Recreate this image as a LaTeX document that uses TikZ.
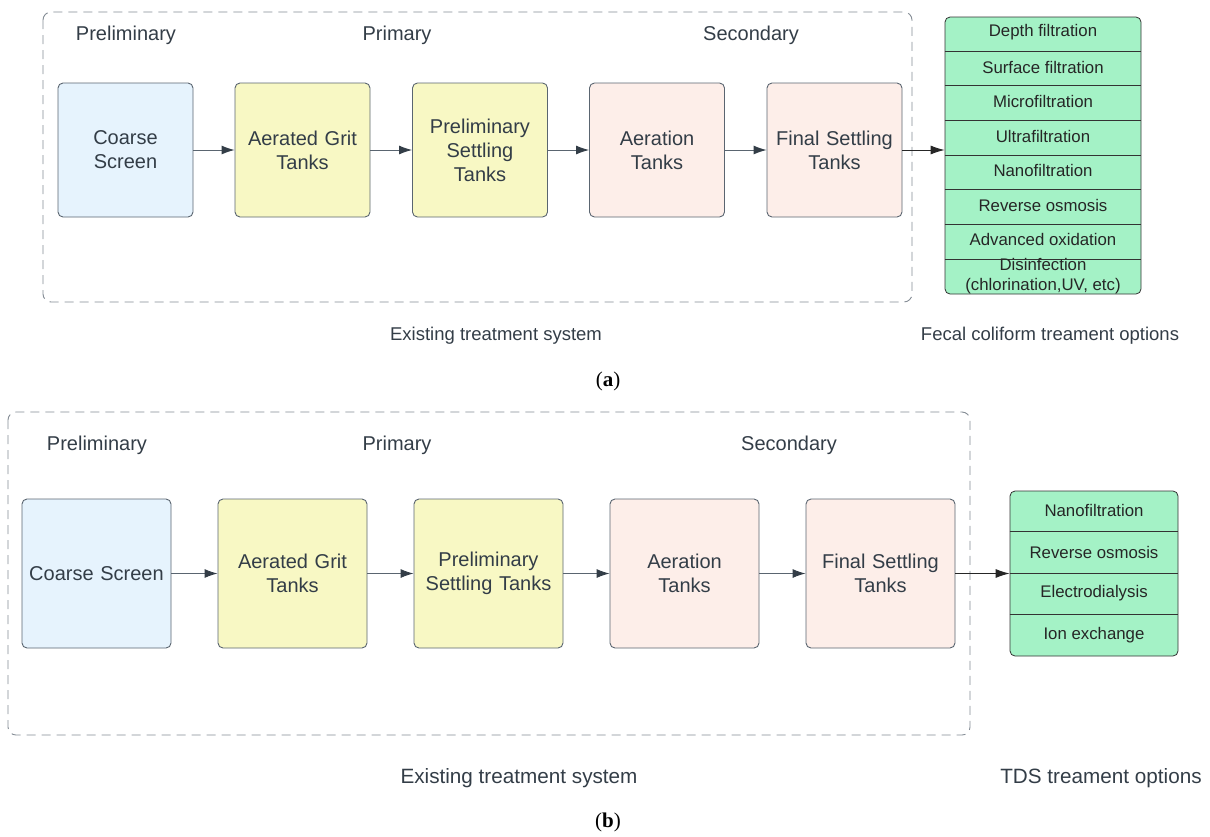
\documentclass[tikz,border=0pt]{standalone}
\usepackage{fontspec}
\setmainfont{Liberation Sans}
\newfontfamily\capfont{Liberation Serif}
\usetikzlibrary{arrows.meta,calc}
\definecolor{edge}{HTML}{5A6570}
\definecolor{txt}{HTML}{333D47}
\definecolor{fblue}{HTML}{E6F3FD}
\definecolor{fyellow}{HTML}{F8F8C4}
\definecolor{fpink}{HTML}{FDEEE9}
\definecolor{fgreen}{HTML}{A4F2C6}
\begin{document}
\begin{tikzpicture}[x=1pt,y=-1pt,
  tank/.style={draw=edge,line width=0.9pt,rounded corners=5pt,align=center,text=txt,
    font=\fontsize{20}{24}\selectfont,inner sep=0pt},
  tankA/.style={tank,minimum width=135pt,minimum height=134pt,text width=130pt},
  tankB/.style={tank,minimum width=149pt,minimum height=149pt,text width=147pt},
  frame/.style={draw=edge!75,dashed,dash pattern=on 9pt off 6pt,line width=0.9pt,rounded corners=8pt},
  stage/.style={text=txt,font=\fontsize{20}{22}\selectfont,inner sep=0pt},
  lbl/.style={text=txt,font=\fontsize{18.5}{22}\selectfont,inner sep=0pt},
  lblb/.style={text=txt,font=\fontsize{20.7}{24}\selectfont,inner sep=0pt},
  optlist/.style={draw=black!80,fill=fgreen,line width=0.8pt,rounded corners=5pt,inner sep=0pt},
  opt/.style={text=black!85,font=\fontsize{16.8}{18}\selectfont,inner sep=0pt,align=center},
  flow/.style={draw=edge,line width=0.9pt,-{Latex[length=13pt,width=9pt,color=txt]}},
  flowk/.style={draw=black!85,line width=0.9pt,-{Latex[length=14pt,width=9pt]}},
  subcap/.style={font=\capfont\fontsize{21}{24}\selectfont,inner sep=0pt}]
\useasboundingbox (0,0) rectangle (1210,836);
% ---------- (a) ----------
\draw[frame] (43,12) rectangle (912,302);
\node[stage] (aP1) at (126,35) {Preliminary};
\node[stage] (aP2) at (397,35) {Primary};
\node[stage] (aP3) at (751,35) {Secondary};
\node[tankA,fill=fblue] (a1) at (125.5,150) {Coarse\\Screen};
\node[tankA,fill=fyellow] (a2) at (302.5,150) {Aerated Grit\\Tanks};
\node[tankA,fill=fyellow] (a3) at (480,150) {Preliminary\\Settling\\Tanks};
\node[tankA,fill=fpink] (a4) at (657,150) {Aeration\\Tanks};
\node[tankA,fill=fpink] (a5) at (834.5,150) {Final Settling\\Tanks};
\draw[flow] (a1) -- (a2);
\draw[flow] (a2) -- (a3);
\draw[flow] (a3) -- (a4);
\draw[flow] (a4) -- (a5);
\node[optlist,minimum width=196pt,minimum height=277pt] (aL) at (1043,155.5) {};
\foreach \i in {1,...,7}{
  \draw[black!80,line width=0.8pt] ($(aL.north west)+(0,{34.625*\i})$) -- ($(aL.north east)+(0,{34.625*\i})$);
}
\node[opt] (ao1) at (1043,32.5) {Depth filtration};
\node[opt] (ao2) at (1043,67) {Surface filtration};
\node[opt] (ao3) at (1043,101.5) {Microfiltration};
\node[opt] (ao4) at (1043,136) {Ultrafiltration};
\node[opt] (ao5) at (1043,170.5) {Nanofiltration};
\node[opt] (ao6) at (1043,205) {Reverse osmosis};
\node[opt] (ao7) at (1043,239.5) {Advanced oxidation};
\node[opt,font=\fontsize{16.8}{20}\selectfont] (ao8) at (1043,276) {Disinfection\\(chlorination,UV, etc)};
\draw[flowk] (a5.east) -- (a5.east -| aL.west);
\node[lbl] (aE) at (496,336) {Existing treatment system};
\node[lbl] (aF) at (1050,336) {Fecal coliform treament options};
\node[subcap] (ca) at (608,381) {(\textbf{a})};
% ---------- (b) ----------
\draw[frame] (8,412) rectangle (970,735);
\node[stage] (bP1) at (97,445) {Preliminary};
\node[stage] (bP2) at (397,445) {Primary};
\node[stage] (bP3) at (789,445) {Secondary};
\node[tankB,fill=fblue] (b1) at (96.5,573.5) {Coarse Screen};
\node[tankB,fill=fyellow] (b2) at (292.5,573.5) {Aerated Grit\\Tanks};
\node[tankB,fill=fyellow] (b3) at (488.5,573.5) {Preliminary\\Settling Tanks};
\node[tankB,fill=fpink] (b4) at (684.5,573.5) {Aeration\\Tanks};
\node[tankB,fill=fpink] (b5) at (880.5,573.5) {Final Settling\\Tanks};
\draw[flow] (b1) -- (b2);
\draw[flow] (b2) -- (b3);
\draw[flow] (b3) -- (b4);
\draw[flow] (b4) -- (b5);
\node[optlist,minimum width=168pt,minimum height=165pt] (bL) at (1094,573.5) {};
\foreach \i in {1,...,3}{
  \draw[black!80,line width=0.8pt] ($(bL.north west)+(0,{41.25*\i})$) -- ($(bL.north east)+(0,{41.25*\i})$);
}
\node[opt] (bo1) at (1094,510.5) {Nanofiltration};
\node[opt] (bo2) at (1094,552) {Reverse osmosis};
\node[opt] (bo3) at (1094,593.5) {Electrodialysis};
\node[opt] (bo4) at (1094,635) {Ion exchange};
\draw[flowk] (b5.east) -- (b5.east -| bL.west);
\node[lblb] (bE) at (519,778) {Existing treatment system};
\node[lblb] (bF) at (1101,778) {TDS treament options};
\node[subcap] (cb) at (608,822) {(\textbf{b})};
\end{tikzpicture}
\end{document}
